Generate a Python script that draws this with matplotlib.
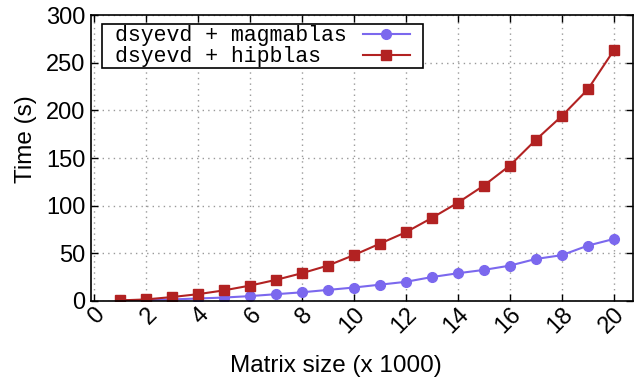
import matplotlib
matplotlib.use("Agg")
import matplotlib.pyplot as plt
from matplotlib.patches import Rectangle
from matplotlib.transforms import IdentityTransform

# data
sizes = [1, 2, 3, 4, 5, 6, 7, 8, 9, 10, 11, 12, 13, 14, 15, 16, 17, 18, 19, 20]
magmablas = [0.5, 1, 1.5, 2.5, 3.5, 5, 7, 9, 11.5, 14, 17, 20, 25, 29, 32.5, 37, 44, 48, 58, 65]
hipblas = [0.5, 1.5, 4, 7, 11, 16, 22, 29, 37, 48, 60, 72, 87, 103, 121, 142, 169, 194, 222, 263]
xticks = list(range(0, 21, 2))
yticks = list(range(0, 301, 50))
labels = ["dsyevd + magmablas", "dsyevd + hipblas"]

plt.rcParams["font.family"] = ["Liberation Sans", "DejaVu Sans"]

fig = plt.figure(figsize=(6.41, 3.78), dpi=100)
ax = fig.add_axes([0.142, 0.204, 0.846, 0.756])

# pad labels so the monospace text lines up on the left (markers sit on the right)
w = max(len(s) for s in labels)
ax.plot(sizes, magmablas, color="#7b68ee", marker="o", markersize=7,
        linewidth=1.5, label=labels[0].ljust(w))
ax.plot(sizes, hipblas, color="#b22222", marker="s", markersize=7,
        linewidth=1.5, label=labels[1].ljust(w))

ax.tick_params(direction="in", top=True, right=True, labelsize=17,
               length=5, width=1)
ax.tick_params(axis="x", pad=2)
ax.tick_params(axis="y", pad=4)
ax.grid(True, linestyle=(0, (1, 3)), color="#999999", linewidth=1)
for s in ax.spines.values():
    s.set_linewidth(1.2)

ax.set_xlabel("Matrix size (x 1000)", fontsize=17.5)
ax.set_ylabel("Time (s)", fontsize=17.5)
ax.xaxis.set_label_coords(0.452, -0.19)
ax.yaxis.set_label_coords(-0.1, 0.566)

leg = ax.legend(loc="upper left", bbox_to_anchor=(0.044, 0.964),
                markerfirst=False, handlelength=2.2,
                prop={"family": "Liberation Mono", "size": 15.5},
                frameon=False, borderpad=0, labelspacing=0.0,
                handletextpad=0.75, borderaxespad=0)
leg.set_zorder(6)

ax.set_xlim(-0.1, 20.75)
ax.set_ylim(0, 300)
ax.set_xticks(xticks)
ax.set_yticks(yticks)
ax.set_xticklabels([str(t) for t in xticks], rotation=45, ha="right",
                   rotation_mode="anchor")

# gnuplot-like key box: wider side margins than height
fig.canvas.draw()
bb = leg.get_window_extent()
box = Rectangle((bb.x0 - 13, bb.y0 - 1), bb.width + 26, bb.height + 2,
                transform=IdentityTransform(), facecolor="white",
                edgecolor="black", linewidth=1.2, zorder=5)
ax.add_patch(box)
ax.set_xlim(-0.1, 20.75)
ax.set_ylim(0, 300)

fig.savefig("out.png", dpi=100)
